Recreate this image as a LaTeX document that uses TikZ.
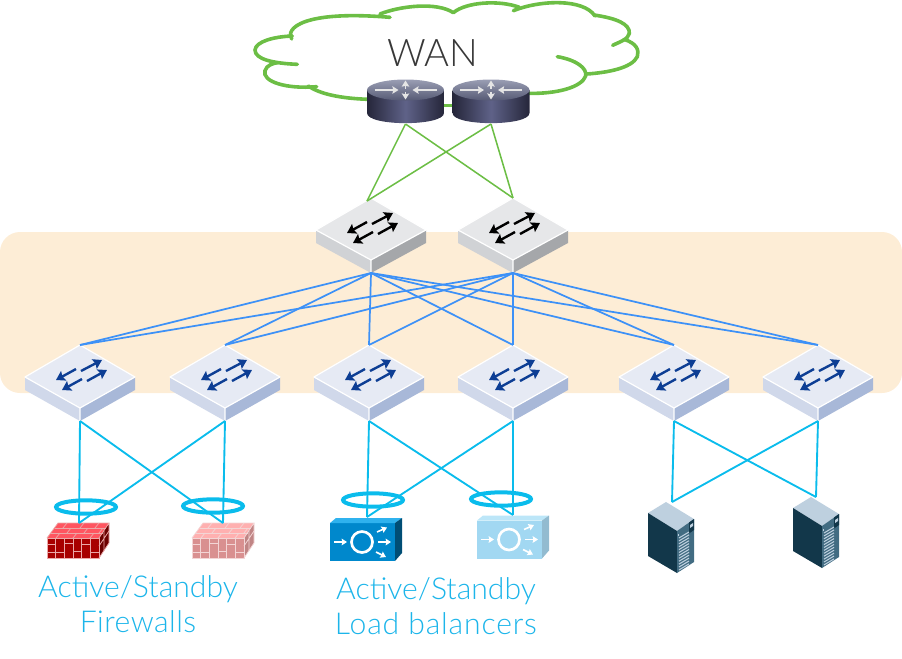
\documentclass[tikz,border=0pt]{standalone}
\usepackage{fontspec}
\setmainfont{Lato}
\newfontfamily\lightf{Lato Light}
\newfontfamily\lightwideA[LetterSpace=1.5]{Lato Light}
\newfontfamily\lightwideB[LetterSpace=2.8]{Lato Light}
\usetikzlibrary{arrows.meta,shapes.geometric}
\definecolor{band}{HTML}{FDEDD6}
\definecolor{wangreen}{HTML}{6CBE45}
\definecolor{meshblue}{HTML}{3D91F7}
\definecolor{accesscyan}{HTML}{0ABCEC}
\definecolor{labelcyan}{HTML}{1CB5EA}
\definecolor{spT}{HTML}{E6E7E9}\definecolor{spL}{HTML}{D0D2D5}\definecolor{spR}{HTML}{A5A7AA}
\definecolor{lfT}{HTML}{E6EAF4}\definecolor{lfL}{HTML}{D0D8EA}\definecolor{lfR}{HTML}{A8B8D8}\definecolor{lfA}{HTML}{0D3E94}
\definecolor{fdF}{HTML}{A80000}\definecolor{fdT}{HTML}{FF5560}\definecolor{fdS}{HTML}{6B0000}\definecolor{fdL}{HTML}{EBA8A8}
\definecolor{fpF}{HTML}{D99090}\definecolor{fpT}{HTML}{FFB0B0}\definecolor{fpS}{HTML}{C08585}\definecolor{fpL}{HTML}{F3D5D5}
\definecolor{ldF}{HTML}{0088CC}\definecolor{ldT}{HTML}{2FB2EE}\definecolor{ldS}{HTML}{004E75}
\definecolor{lpF}{HTML}{A2D8F2}\definecolor{lpT}{HTML}{BCE6F8}\definecolor{lpS}{HTML}{92BBD0}
\definecolor{srvtop}{HTML}{BED0DF}\definecolor{srvdark}{HTML}{12374A}\definecolor{srvside}{HTML}{426C82}
\definecolor{rtE}{HTML}{25263A}\definecolor{rtM}{HTML}{5F6288}\definecolor{rtA}{HTML}{9A9EB4}\definecolor{rtB}{HTML}{565A74}
\tikzset{swarrow/.style={line width=1.8pt,-{Stealth[inset=1pt,length=6.5pt,width=8pt]}}}
\newcommand{\swcode}[5]{%
  \coordinate (-t) at (0,0); \coordinate (-b) at (0,#5);
  \fill[#2] (-55,32) -- (0,#5-13) -- (0,#5) -- (-55,45) -- cycle;
  \fill[#3] (55,32) -- (0,#5-13) -- (0,#5) -- (55,45) -- cycle;
  \fill[#1] (0,0) -- (55,32) -- (0,#5-13) -- (-55,32) -- cycle;
  \draw[white,line width=.9pt,line join=round] (-55,32) -- (0,0) -- (55,32) -- (0,#5-13) -- cycle (0,#5-13) -- (0,#5);
  \draw[#4,swarrow] (1,26) -- (22,15);
  \draw[#4,swarrow] (7,36) -- (27,25);
  \draw[#4,swarrow] (-4,24) -- (-24,35);
  \draw[#4,swarrow] (2,34) -- (-18,45);
}
\newcommand{\fwcode}[4]{%
  \fill[#1] (0,0) rectangle (52,20);
  \fill[#2] (0,0) -- (11,-15) -- (62,-15) -- (52,0) -- cycle;
  \fill[#3] (52,0) -- (62,-15) -- (62,5) -- (52,20) -- cycle;
  \begin{scope}[draw=#4,line width=.55pt]
    \draw (0,0) rectangle (52,20);
    \draw (0,0) -- (11,-15) -- (62,-15) -- (52,0) (62,-15) -- (62,5) -- (52,20);
    \foreach \i in {8.7,17.3,26,34.7,43.3} \draw (\i,0) -- (\i,20);
    \draw (0,6) -- (8.7,6) (17.3,5) -- (26,5) (34.7,6) -- (43.3,6);
    \draw (8.7,14) -- (17.3,14) (26,13) -- (34.7,13) (43.3,14) -- (52,14) (0,14) -- (8.7,14);
    \draw (4,-5) -- (56,-5) (7.5,-10) -- (59,-10);
    \draw (9,0) -- (13,-5) (26,0) -- (30,-5) (43,0) -- (47,-5);
    \draw (20,-5) -- (24,-10) (37,-5) -- (41,-10) (52,-5) -- (56,-10);
    \draw (16,-10) -- (20,-15) (33,-10) -- (37,-15) (48,-10) -- (52,-15);
    \draw (52,8) -- (62,-7) (57,-7) -- (57,13);
  \end{scope}
}
\newcommand{\lbcode}[3]{%
  \fill[#1] (0,0) rectangle (65,38);
  \fill[#2] (0,0) -- (6,-5) -- (72,-5) -- (65,0) -- cycle;
  \fill[#3] (65,0) -- (72,-5) -- (72,30) -- (65,38) -- cycle;
  \draw[white,line width=2pt] (32,19) circle (10.5);
  \begin{scope}[white,line width=1.2pt,-{Stealth[inset=.5pt,length=4pt,width=5pt]}]
    \draw (4,19) -- (17,19);
    \draw (47,9) -- (57,4.5);
    \draw (48,19) -- (61,19);
    \draw (46,29) -- (56,34);
  \end{scope}
}
\newcommand{\srvcode}{%
  \fill[srvtop] (0,0) -- (18,-11) -- (46,6) -- (29,18) -- cycle;
  \fill[srvdark] (0,0) -- (29,18) -- (29,60) -- (0,43) -- cycle;
  \fill[srvside] (29,18) -- (46,6) -- (46,49) -- (29,60) -- cycle;
  \fill[srvdark] (41,9.5) -- (46,6) -- (46,17) -- (41,20.5) -- cycle;
  \fill[srvtop] (42,12) -- (45,10) -- (45,13) -- (42,15) -- cycle;
  \foreach \i in {0,...,11}
    \draw[srvtop,line width=.8pt] (31,{25+\i*2.9}) -- (41,{19+\i*2.9});
  \fill[srvtop] (30,21) rectangle (31,23);
}
\newcommand{\Z}[2]{({240+#1/3},{#2/3})}
\tikzset{
  pics/spine/.style={code={\swcode{spT}{spL}{spR}{black}{75}}},
  pics/leaf/.style={code={\swcode{lfT}{lfL}{lfR}{lfA}{76}}},
  pics/fwdark/.style={code={\fwcode{fdF}{fdT}{fdS}{fdL}}},
  pics/fwpale/.style={code={\fwcode{fpF}{fpT}{fpS}{fpL}}},
  pics/lbdark/.style={code={\lbcode{ldF}{ldT}{ldS}}},
  pics/lbpale/.style={code={\lbcode{lpF}{lpT}{lpS}}},
  pics/srv/.style={code={\srvcode}},
  greenlink/.style={wangreen,line width=1.15pt},
  cloudline/.style={wangreen,line width=2.7pt,line cap=round},
  bluelink/.style={meshblue,line width=1.3pt},
  cyanlink/.style={accesscyan,line width=1.4pt},
  ring/.style={ellipse,draw=accesscyan,line width=3pt,inner sep=0pt,minimum width=45pt,minimum height=10pt},
  caption/.style={text=labelcyan,font=\lightf\fontsize{22.6pt}{26.2pt}\selectfont,align=center,inner sep=0pt}
}
\begin{document}
\begin{tikzpicture}[x=0.75pt,y=-0.75pt]
\useasboundingbox (0,0) rectangle (902,658);
\fill[band,rounded corners=15pt] (0,232) rectangle (902,393);
\begin{scope}[cloudline]
\draw \Z{172}{193} .. controls \Z{100}{190} and \Z{45}{178} .. \Z{45}{150} .. controls \Z{47}{125} and \Z{100}{110} .. \Z{157}{108};
\draw \Z{155}{117} .. controls \Z{135}{85} and \Z{190}{30} .. \Z{450}{52};
\draw \Z{420}{42} .. controls \Z{480}{18} and \Z{590}{5} .. \Z{640}{38};
\draw \Z{640}{38} .. controls \Z{680}{5} and \Z{780}{0} .. \Z{838}{22};
\draw \Z{820}{32} .. controls \Z{900}{0} and \Z{1030}{-5} .. \Z{1065}{48};
\draw \Z{1062}{45} .. controls \Z{1130}{55} and \Z{1170}{72} .. \Z{1168}{100} .. controls \Z{1165}{118} and \Z{1140}{125} .. \Z{1118}{136};
\draw \Z{1152}{118} .. controls \Z{1190}{130} and \Z{1198}{150} .. \Z{1192}{170} .. controls \Z{1175}{205} and \Z{1100}{218} .. \Z{1040}{222};
\draw \Z{952}{170} .. controls \Z{1010}{180} and \Z{1042}{205} .. \Z{1037}{228} .. controls \Z{1025}{262} and \Z{950}{282} .. \Z{865}{280};
\draw \Z{610}{317} -- \Z{640}{317};
\draw \Z{385}{298} .. controls \Z{300}{295} and \Z{240}{282} .. \Z{205}{258};
\draw \Z{230}{260} .. controls \Z{140}{268} and \Z{65}{245} .. \Z{75}{212} .. controls \Z{80}{195} and \Z{100}{190} .. \Z{112}{188};
\end{scope}
\node[text=black!78,font=\lightf\fontsize{28.5pt}{30pt}\selectfont,inner sep=0pt] (wan) at (432.5,53) {WAN};
\foreach \n/\cx in {r1/405.5,r2/491} {
\begin{scope}[shift={(\cx,90)}]
  \coordinate (\n) at (0,34);
  \shade[left color=rtE,right color=rtE,middle color=rtM]
    (-38.5,0) -- (-38.5,23) .. controls (-38.5,36.5) and (38.5,36.5) .. (38.5,23) -- (38.5,0) -- cycle;
  \shade[top color=rtA,bottom color=rtB]
    (0,0) ellipse [x radius=38.5,y radius=10.5];
  \begin{scope}[white!90!black,line width=1.1pt,-{Stealth[inset=.5pt,length=4.5pt,width=5.5pt]}]
    \draw (-31,0) -- (-7,0); \draw (31,0) -- (7,0);
    \draw (0,-1.5) -- (0,-9.5); \draw (0,1.5) -- (0,9.5);
  \end{scope}
\end{scope}}
\pic (s1) at (371,198) {spine};
\pic (s2) at (513,198) {spine};
\pic (l1) at (80,345) {leaf};
\pic (l2) at (225,345) {leaf};
\pic (l3) at (369,345) {leaf};
\pic (l4) at (513,345) {leaf};
\pic (l5) at (674,345) {leaf};
\pic (l6) at (818,345) {leaf};
\pic (f1) at (47,538) {fwdark};
\pic (f2) at (192,538) {fwpale};
\pic (b1) at (330,523) {lbdark};
\pic (b2) at (477,520.5) {lbpale};
\pic (v1) at (648,513) {srv};
\pic (v2) at (793,508) {srv};
\coordinate (g1) at (367,201);
\draw[greenlink] (r1) -- (g1);
\draw[greenlink] (r1) -- (s2-t);
\draw[greenlink] (r2) -- (g1);
\draw[greenlink] (r2) -- (s2-t);
\foreach \a in {s1,s2}
  \foreach \b in {l1,l2,l3,l4,l5,l6}
    \draw[bluelink] (\a-b) -- (\b-t);
\coordinate (f1p) at (79,523); \coordinate (f2p) at (223,523);
\coordinate (b1p) at (367,517); \coordinate (b2p) at (513,515);
\coordinate (v1p) at (672,502); \coordinate (v2p) at (816,497);
\draw[cyanlink] (l1-b) -- (f1p); \draw[cyanlink] (l1-b) -- (f2p);
\draw[cyanlink] (l2-b) -- (f1p); \draw[cyanlink] (l2-b) -- (f2p);
\draw[cyanlink] (l3-b) -- (b1p); \draw[cyanlink] (l3-b) -- (b2p);
\draw[cyanlink] (l4-b) -- (b1p); \draw[cyanlink] (l4-b) -- (b2p);
\draw[cyanlink] (l5-b) -- (v1p); \draw[cyanlink] (l5-b) -- (v2p);
\draw[cyanlink] (l6-b) -- (v1p); \draw[cyanlink] (l6-b) -- (v2p);
\node[ring] (ring1) at (86,507) {};
\node[ring] (ring2) at (213,506) {};
\node[ring] (ring3) at (373,500) {};
\node[ring] (ring4) at (501,499) {};
\node[caption] (cap1) at (138,604.5) {Active/Standby\\{\lightwideA\fontsize{22.6pt}{26.2pt}\selectfont Firewalls}};
\node[caption] (cap2) at (436,606.5) {Active/Standby\\{\lightwideB\fontsize{22.6pt}{26.2pt}\selectfont Load balancers}};
\end{tikzpicture}
\end{document}
